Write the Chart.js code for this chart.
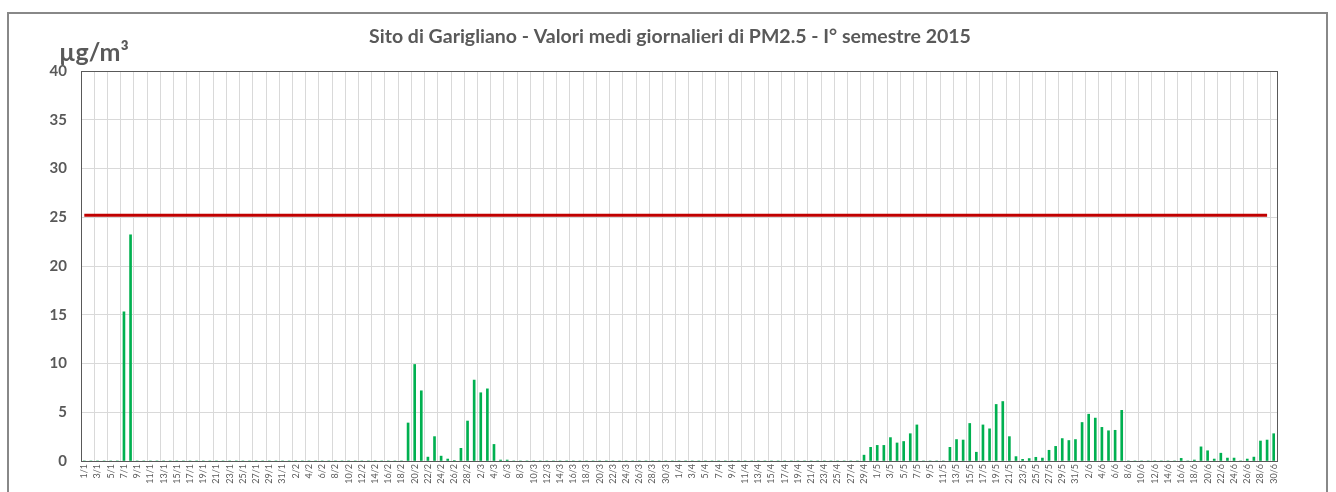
<!DOCTYPE html>
<html>
<head>
<meta charset="utf-8">
<script src="https://cdn.jsdelivr.net/npm/chart.js@4"></script>
<style>
  body { margin: 0; background: #fff; }
  #wrap { position: relative; width: 1336px; height: 492px; overflow: hidden; }
  #frame { position: absolute; left: 7px; top: 12px; width: 1321px; height: 520px; border: 2px solid #888; box-sizing: border-box; }
  canvas { position: absolute; left: 0; top: 0; }
</style>
</head>
<body>
<div id="wrap">
  <div id="frame"></div>
  <canvas id="myChart" width="1336" height="492"></canvas>
</div>
<script>
const title = 'Sito di Garigliano - Valori medi giornalieri di PM2.5 - I° semestre 2015';
const unit = 'µg/m³';
const yTicks = [0, 5, 10, 15, 20, 25, 30, 35, 40];

// days per month, I semestre 2015
const months = [1, 2, 3, 4, 5, 6];
const monthDays = [31, 28, 31, 30, 31, 30];

// daily means of PM2.5 (µg/m³), one array per month
const jan = [0, 0, 0, 0, 0, 0, 15.3, 23.2, 0, 0, 0, 0, 0, 0, 0, 0, 0, 0, 0, 0, 0, 0, 0, 0, 0, 0, 0, 0, 0, 0, 0];
const feb = [0, 0, 0, 0, 0, 0, 0, 0, 0, 0, 0, 0, 0, 0, 0, 0, 0, 0, 3.9, 9.9, 7.2, 0.4, 2.5, 0.5, 0.2, 0.05, 1.3, 4.1];
const mar = [8.3, 7.0, 7.4, 1.7, 0.1, 0.1, 0, 0, 0, 0, 0, 0, 0, 0, 0, 0, 0, 0, 0, 0, 0, 0, 0, 0, 0, 0, 0, 0, 0, 0, 0];
const apr = [0, 0, 0, 0, 0, 0, 0, 0, 0, 0, 0, 0, 0, 0, 0, 0, 0, 0, 0, 0, 0, 0, 0, 0, 0, 0, 0, 0, 0.6, 1.4];
const may = [1.6, 1.6, 2.4, 1.85, 2.0, 2.8, 3.7, 0, 0, 0, 0, 1.4, 2.2, 2.15, 3.85, 0.9, 3.7, 3.3, 5.8, 6.1, 2.5, 0.45, 0.17, 0.25, 0.38, 0.3, 1.1, 1.5, 2.3, 2.1, 2.2];
const jun = [3.95, 4.8, 4.4, 3.45, 3.1, 3.15, 5.2, 0, 0, 0, 0, 0, 0, 0, 0, 0.27, 0, 0.1, 1.45, 1.05, 0.2, 0.8, 0.3, 0.3, 0, 0.2, 0.4, 2.05, 2.15, 2.8];

// limit line (drawn across the period)
const limitValue = 25.2;

const labels = [];
months.forEach((m, k) => {
  for (let d = 1; d <= monthDays[k]; d++) labels.push(d + '/' + m);
});
const pm25 = [].concat(jan, feb, mar, apr, may, jun);
const limit = labels.map((l, i) => i < labels.length - 1 ? limitValue : null);

const textColor = '#595959';
const font = 'Lato, "Liberation Sans", sans-serif';

const decorations = {
  id: 'decorations',
  afterDraw(chart) {
    const c = chart.ctx;
    const a = chart.chartArea;
    c.save();
    c.strokeStyle = '#595959';
    c.lineWidth = 1;
    c.strokeRect(a.left + 0.5, a.top + 0.5, a.right - a.left, a.bottom - a.top);
    c.fillStyle = textColor;
    c.textAlign = 'center';
    c.textBaseline = 'middle';
    c.font = 'bold 19.5px ' + font;
    c.fillText(title, 670, 37);
    c.textAlign = 'left';
    c.textBaseline = 'alphabetic';
    c.font = 'bold 25px ' + font;
    c.fillText(unit, 59, 61);
    c.restore();
  }
};

const ctx = document.getElementById('myChart').getContext('2d');

new Chart(ctx, {
  data: {
    labels: labels,
    datasets: [{
      type: 'line',
      label: 'Limite',
      data: limit,
      borderColor: '#C00000',
      borderWidth: 3,
      pointRadius: 0,
      fill: false,
      order: 0
    }, {
      type: 'bar',
      label: 'PM2.5',
      data: pm25,
      backgroundColor: '#00B050',
      barThickness: 2,
      order: 1
    }]
  },
  options: {
    responsive: false,
    animation: false,
    layout: { padding: { top: 71, right: 59, bottom: 0, left: 0 } },
    plugins: {
      legend: { display: false },
      tooltip: { enabled: false }
    },
    scales: {
      x: {
        offset: true,
        grid: {
          offset: true,
          drawTicks: false,
          color: (c) => c.index % 2 === 0 ? '#d9d9d9' : 'rgba(0,0,0,0)'
        },
        border: { color: '#8c8c8c' },
        ticks: {
          autoSkip: false,
          minRotation: 90,
          maxRotation: 90,
          padding: 3,
          color: textColor,
          font: { size: 9, family: font },
          callback: function (v, i) { return i % 2 === 0 ? this.getLabelForValue(v) : ''; }
        },
        afterFit(s) { s.height = 31; }
      },
      y: {
        min: 0,
        max: 40,
        grid: { color: '#d9d9d9', drawTicks: false },
        border: { color: '#8c8c8c' },
        ticks: {
          stepSize: 5,
          padding: 14,
          color: textColor,
          font: { size: 15, weight: 'bold', family: font }
        },
        afterFit(s) { s.width = 81; }
      }
    }
  },
  plugins: [decorations]
});
</script>
</body>
</html>
